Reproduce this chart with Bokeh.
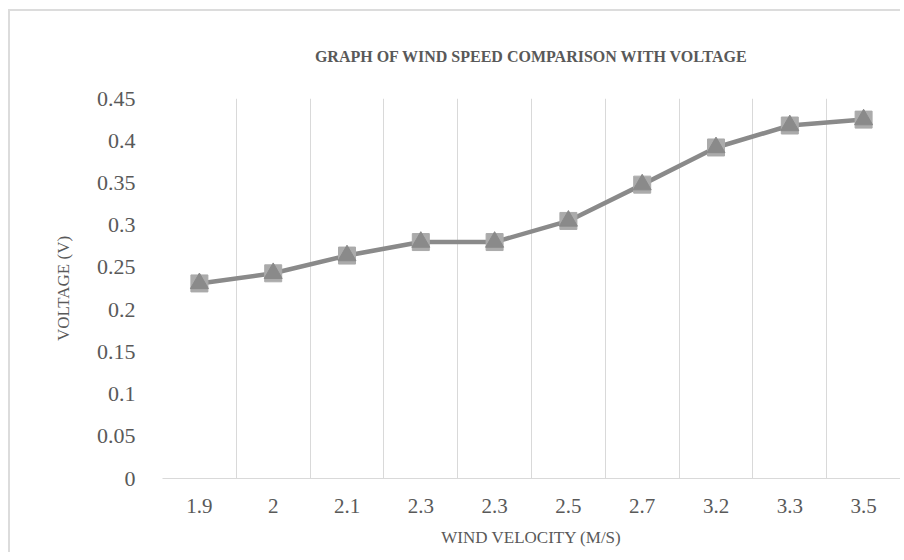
from bokeh.plotting import figure
from bokeh.models import FixedTicker, ColumnDataSource
from bokeh.embed import file_html
from bokeh.resources import INLINE

# ---- data ----
wind_labels = ["1.9", "2", "2.1", "2.3", "2.3", "2.5", "2.7", "3.2", "3.3", "3.5"]
voltage = [0.231, 0.243, 0.264, 0.280, 0.280, 0.305, 0.348, 0.392, 0.418, 0.425]
y_ticks = [0, 0.05, 0.1, 0.15, 0.2, 0.25, 0.3, 0.35, 0.4, 0.45]
y_tick_labels = ["0", "0.05", "0.1", "0.15", "0.2", "0.25", "0.3", "0.35", "0.4", "0.45"]
title_text = "GRAPH OF WIND SPEED COMPARISON WITH VOLTAGE"
x_title = "WIND VELOCITY (M/S)"
y_title = "VOLTAGE (V)"

n = len(wind_labels)
xs = list(range(n))
src = ColumnDataSource(dict(x=xs, y=voltage))

FONT = "Liberation Serif"
TXT = "#595959"
GRID = "#d9d9d9"

p = figure(width=900, height=552, output_backend="svg", toolbar_location=None,
           x_range=(-0.5, n - 0.5), y_range=(0, 0.45),
           min_border_left=162, min_border_right=0, min_border_bottom=74, min_border_top=98)
p.styles = {
    "background-image": "linear-gradient(#dcdcdc,#dcdcdc), linear-gradient(#dcdcdc,#dcdcdc)",
    "background-size": "2px 100%, 100% 2px",
    "background-position": "8px 9px, 8px 9px",
    "background-repeat": "no-repeat",
}
p.outline_line_color = None
p.background_fill_color = "white"
p.border_fill_color = None

p.title.text = title_text
p.title.align = "center"
p.title.text_font = FONT
p.title.text_font_size = "16px"
p.title.text_font_style = "bold"
p.title.text_color = TXT
p.title.padding = 29

# grids
p.ygrid.grid_line_color = None
p.xgrid.ticker = FixedTicker(ticks=[i - 0.5 for i in range(n + 1)])
p.xgrid.grid_line_color = GRID
p.xgrid.grid_line_width = 1

# x axis
p.xaxis.ticker = FixedTicker(ticks=xs)
p.xaxis.major_label_overrides = {i: lab for i, lab in enumerate(wind_labels)}
p.xaxis.axis_line_color = GRID
p.xaxis.major_tick_line_color = None
p.xaxis.minor_tick_line_color = None
p.xaxis.major_label_text_font = FONT
p.xaxis.major_label_text_font_size = "21px"
p.xaxis.major_label_text_color = TXT
p.xaxis.major_label_standoff = 14
p.xaxis.axis_label = x_title
p.xaxis.axis_label_text_font = FONT
p.xaxis.axis_label_text_font_size = "17px"
p.xaxis.axis_label_text_font_style = "normal"
p.xaxis.axis_label_text_color = TXT
p.xaxis.axis_label_standoff = 12

# y axis
p.yaxis.ticker = FixedTicker(ticks=y_ticks)
p.yaxis.major_label_overrides = {t: lab for t, lab in zip(y_ticks, y_tick_labels)}
p.yaxis.axis_line_color = None
p.yaxis.major_tick_line_color = None
p.yaxis.minor_tick_line_color = None
p.yaxis.major_label_text_font = FONT
p.yaxis.major_label_text_font_size = "22px"
p.yaxis.major_label_text_color = TXT
p.yaxis.major_label_standoff = 21
p.yaxis.axis_label = y_title
p.yaxis.axis_label_text_font = FONT
p.yaxis.axis_label_text_font_size = "17px"
p.yaxis.axis_label_text_font_style = "normal"
p.yaxis.axis_label_text_color = TXT
p.yaxis.axis_label_standoff = 21

# series
p.line("x", "y", source=src, line_color="#8a8a8a", line_width=4.5)
p.scatter("x", "y", source=src, marker="square", size=17, fill_color="#ababab", line_color="#ababab")
p.scatter("x", "y", source=src, marker="triangle", size=18, fill_color="#8a8a8a", line_color="#8a8a8a")

open("out.html", "w").write(file_html(p, INLINE))
